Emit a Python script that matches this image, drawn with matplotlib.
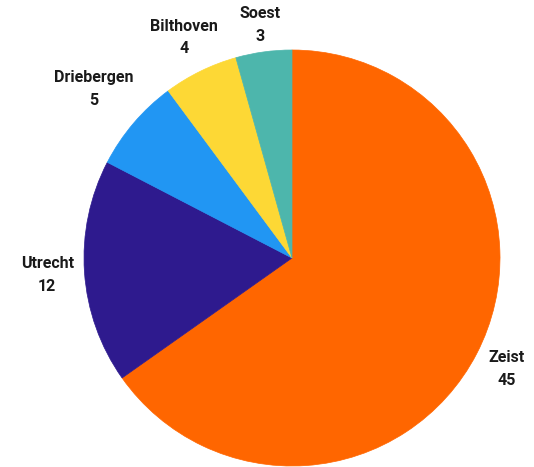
import numpy as np
import matplotlib.pyplot as plt

towns = ["Zeist", "Utrecht", "Driebergen", "Bilthoven", "Soest"]
counts = [45, 12, 5, 4, 3]
colors = ["#FF6600", "#2E1A8E", "#2196F3", "#FDD835", "#4DB6AC"]

plt.rcParams['font.family'] = ['Roboto', 'DejaVu Sans']

fig = plt.figure(figsize=(5.34, 4.67), dpi=100)
# axes box chosen so the pie centre sits at (292, 258) px with radius 208 px
ax = fig.add_axes([84 / 534, 1 / 467, 416 / 534, 416 / 467])

wedges, _ = ax.pie(counts, colors=colors, startangle=90, counterclock=False,
                   wedgeprops=dict(linewidth=0))
# paint over the thin white seams between slices
for w in wedges:
    w.set_edgecolor(w.get_facecolor())
    w.set_linewidth(0.5)

# how far out each label sits, in pie radii
label_dist = [1.16, 1.18, 1.25, 1.18, 1.13]
for w, town, c, d in zip(wedges, towns, counts, label_dist):
    ang = np.deg2rad((w.theta1 + w.theta2) / 2)
    ax.text(d * np.cos(ang), d * np.sin(ang), f"{town}\n{c}",
            ha='center', va='center', fontsize=11.5, fontweight='bold',
            color='#1a1a1a', linespacing=1.65)

ax.set_xlim(-1, 1)
ax.set_ylim(-1, 1)
ax.set_aspect('equal')
ax.axis('off')

fig.savefig("out.png", dpi=100)
